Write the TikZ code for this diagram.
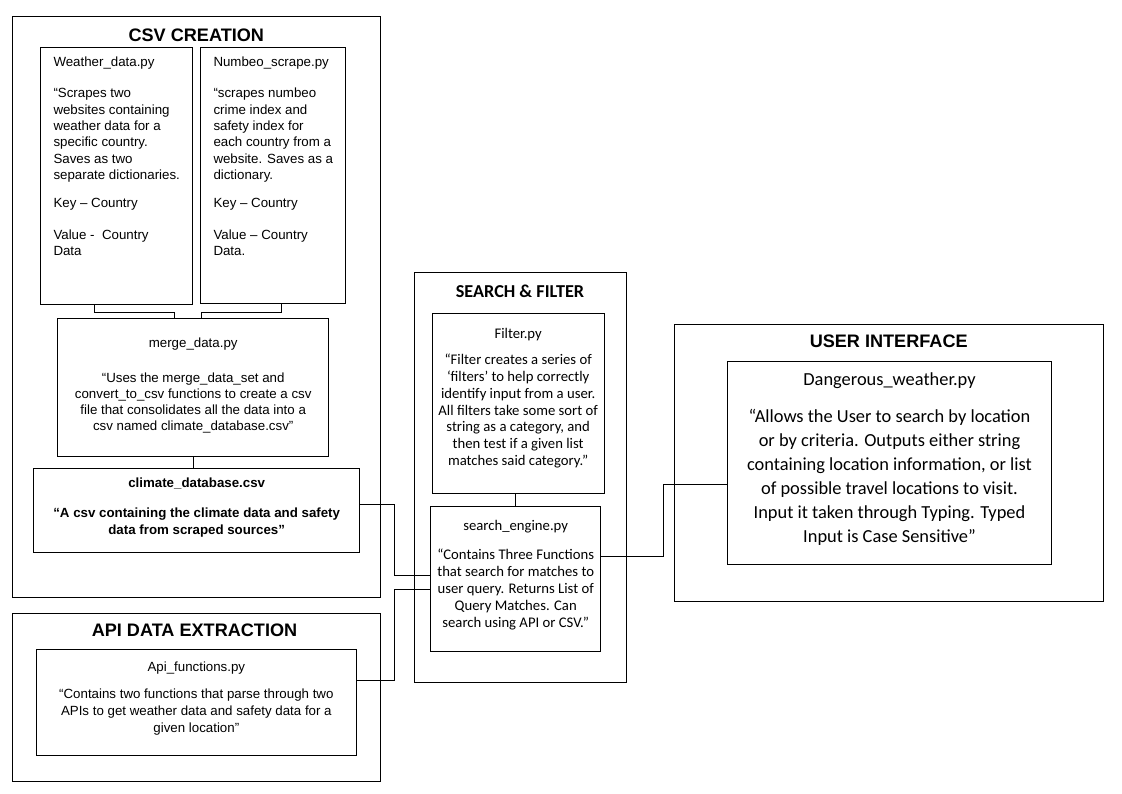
\documentclass[tikz,border=0pt]{standalone}
\usepackage{fontspec}
\setmainfont{Liberation Sans}
\newfontfamily\calib{Carlito}
\tikzset{
  box/.style={draw=black, line width=1pt, inner sep=0pt, outer sep=0pt},
  conn/.style={draw=black, line width=1pt},
  ttl/.style={font=\fontsize{18.1}{20}\selectfont\bfseries, inner sep=0pt},
  ttlc/.style={font=\calib\fontsize{18.2}{20}\selectfont\bfseries, inner sep=0pt},
  txtl/.style={inner sep=0pt, align=left, anchor=north west},
  txtc/.style={inner sep=0pt, align=center, anchor=north},
}
\begin{document}
\begin{tikzpicture}[x=1pt,y=-1pt]
\useasboundingbox (0,0) rectangle (1122,793);
\fill[white] (0,0) rectangle (1122,793);

% ---------- CSV CREATION ----------
\node[box, minimum width=367.6pt, minimum height=580.3pt] (csvgrp) at (196.5,306.85) {};
\node[ttl] (csvtitle) at (196.3,35) {CSV CREATION};
\node[box, minimum width=152pt, minimum height=256.6pt] (weather) at (116.7,176) {};
\node[box, minimum width=145pt, minimum height=255.6pt] (numbeo) at (273.2,175.5) {};
\node[box, minimum width=271pt, minimum height=137.7pt] (merge) at (193.2,387.15) {};
\node[box, minimum width=326pt, minimum height=84.4pt] (climate) at (196.7,510.5) {};

\node[txtl, font=\fontsize{13.3}{16.3}\selectfont] (weathertxt) at (53.3,54.6)
 {\strut Weather\_data.py\\[15.3pt]
  “Scrapes two\\ websites containing\\ weather data for a\\ specific country.\\ Saves as two\\ separate dictionaries.\\[12.2pt]
  Key – Country\\[15.4pt]
  Value -\ \ Country\\ Data};
\node[txtl, font=\fontsize{13.3}{16.3}\selectfont] (numbeotxt) at (213.3,54.6)
 {\strut Numbeo\_scrape.py\\[15.3pt]
  “scrapes numbeo\\ crime index and\\ safety index for\\ each country from a\\ website. Saves as a\\ dictionary.\\[12.2pt]
  Key – Country\\[15.4pt]
  Value – Country\\ Data.};
\node[txtc, font=\fontsize{13.3}{15.8}\selectfont] (mergetxt) at (193.2,336.2)
 {\strut merge\_data.py\\[19.5pt]
  “Uses the merge\_data\_set and\\ convert\_to\_csv functions to create a csv\\ file that consolidates all the data into a\\ csv named climate\_database.csv”};
\node[txtc, font=\fontsize{13.3}{16.7}\selectfont\bfseries] (climatetxt) at (196.7,475.9)
 {\strut climate\_database.csv\\[13.3pt]
  “A csv containing the climate data and safety\\ data from scraped sources”};

% ---------- API DATA EXTRACTION ----------
\node[box, minimum width=367.6pt, minimum height=167.7pt] (apigrp) at (196.5,697.15) {};
\node[ttl] (apititle) at (194.5,630) {API DATA EXTRACTION};
\node[box, minimum width=320.7pt, minimum height=105.7pt] (api) at (196.35,702.15) {};
\node[txtc, font=\fontsize{13.3}{17}\selectfont] (apitxt) at (196.35,659.4)
 {\strut Api\_functions.py\\[10pt]
  “Contains two functions that parse through two\\ APIs to get weather data and safety data for a\\ given location”};

% ---------- SEARCH & FILTER ----------
\node[box, minimum width=212.4pt, minimum height=410.3pt] (sfgrp) at (520.5,477.15) {};
\node[ttlc] (sftitle) at (520,291) {SEARCH \& FILTER};
\node[box, minimum width=171.7pt, minimum height=180pt] (filter) at (518.15,403.7) {};
\node[box, minimum width=170pt, minimum height=145pt] (search) at (515.7,578.5) {};
\node[txtc, font=\calib\fontsize{14.7}{16.8}\selectfont] (filtertxt) at (518.15,326.2)
 {\strut Filter.py\\[9.8pt]
  “Filter creates a series of\\ ‘filters’ to help correctly\\ identify input from a user.\\ All filters take some sort of\\ string as a category, and\\ then test if a given list\\ matches said category.”};
\node[txtc, font=\calib\fontsize{14.7}{17.2}\selectfont] (searchtxt) at (515.7,518.3)
 {\strut search\_engine.py\\[11.3pt]
  “Contains Three Functions\\ that search for matches to\\ user query. Returns List of\\ Query Matches. Can\\ search using API or CSV.”};

% ---------- USER INTERFACE ----------
\node[box, minimum width=429.3pt, minimum height=276.7pt] (uigrp) at (888.65,462.65) {};
\node[ttl] (uititle) at (888.7,341.7) {USER INTERFACE};
\node[box, minimum width=324.4pt, minimum height=202.3pt] (dang) at (889.5,462.85) {};
\node[txtc, font=\calib\fontsize{18.4}{24}\selectfont] (dangtxt) at (889.5,368)
 {\strut Dangerous\_weather.py\\[13.4pt]
  “Allows the User to search by location\\ or by criteria. Outputs either string\\ containing location information, or list\\ of possible travel locations to visit.\\ Input it taken through Typing. Typed\\ Input is Case Sensitive”};

% ---------- connectors ----------
\draw[conn] ([xshift=54pt]weather.south west) -- ++(0,8) -| ([xshift=116.6pt]merge.north west);
\draw[conn] ([xshift=81pt]numbeo.south west) -- ++(0,9) -| ([xshift=143.3pt]merge.north west);
\draw[conn] (merge.south) -- (merge.south |- climate.north);
\draw[conn] ([yshift=6.2pt]climate.east) -- ++(34.6,0) |- ([yshift=2.8pt]search.west);
\draw[conn] ([yshift=22.15pt]api.east) -- ++(37.6,0) |- ([yshift=-10.5pt]search.west);
\draw[conn] (search.north |- filter.south) -- (search.north);
\draw[conn] ([yshift=21.8pt]search.east) -- ++(62.6,0) |- ([yshift=-21.4pt]dang.west);
\end{tikzpicture}
\end{document}
